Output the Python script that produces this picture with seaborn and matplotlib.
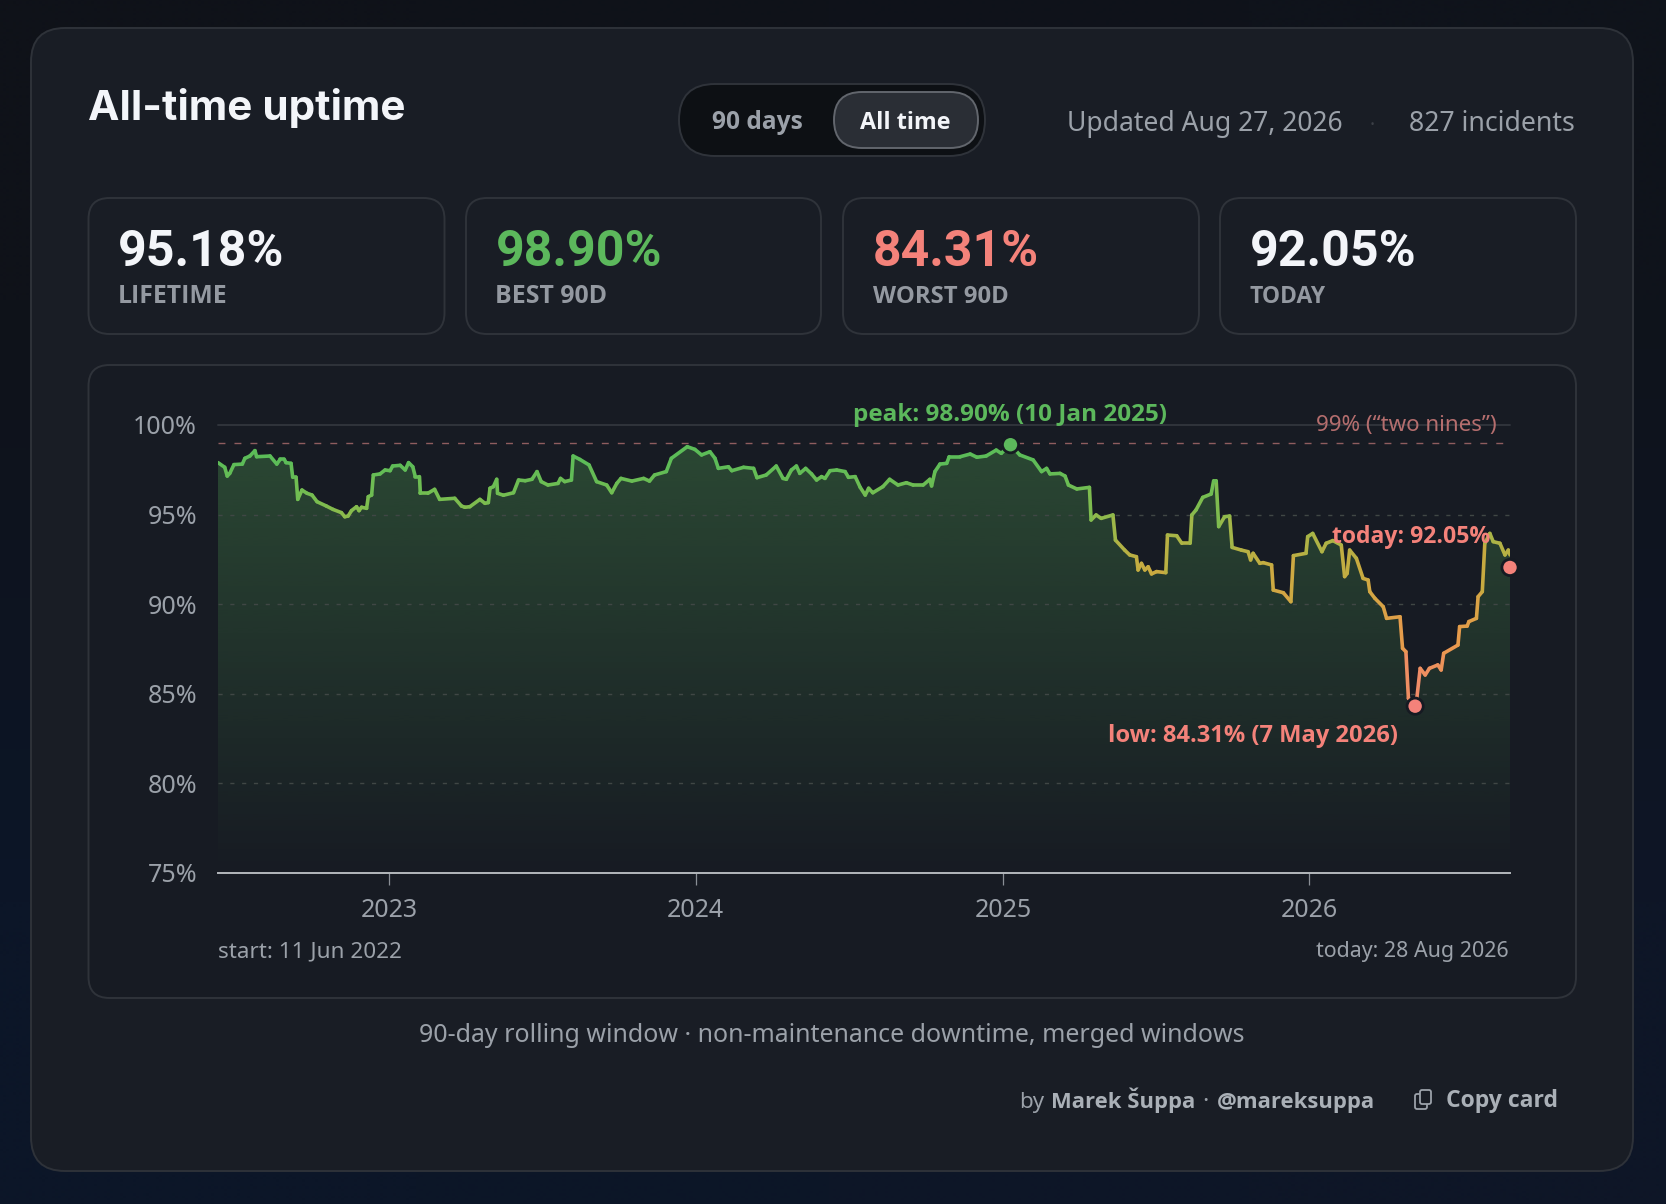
import datetime as dt

import matplotlib.pyplot as plt
import matplotlib.dates as mdates
import numpy as np
import pandas as pd
import seaborn as sns
from matplotlib.colors import LinearSegmentedColormap, to_rgb
from matplotlib.patches import FancyBboxPatch

# days since start of the series and the 90-day rolling uptime
days = [0, 8, 11, 14, 19, 29, 32, 38, 44, 46, 62, 70, 74, 79, 81, 87, 89, 93, 95, 100,
        106, 112, 118, 129, 137, 147, 151, 155, 159, 165, 168, 171, 177, 179, 183, 185,
        193, 199, 205, 208, 217, 223, 227, 232, 235, 240, 241, 250, 258, 264, 282, 290,
        294, 300, 312, 318, 322, 324, 328, 332, 333, 340, 352, 358, 366, 374, 380, 385,
        393, 405, 408, 413, 421, 423, 431, 442, 451, 463, 469, 475, 480, 493, 507, 514,
        520, 534, 540, 559, 568, 576, 586, 592, 596, 608, 612, 626, 638, 642, 653, 665,
        673, 677, 683, 689, 693, 700, 707, 713, 719, 723, 729, 737, 747, 751, 759, 765,
        771, 775, 780, 792, 800, 810, 820, 828, 840, 848, 850, 854, 860, 868, 871, 884,
        896, 904, 915, 927, 933, 944, 955, 971, 981, 987, 991, 1003, 1009, 1013, 1023,
        1038, 1040, 1046, 1052, 1066, 1069, 1080, 1086, 1094, 1096, 1100, 1104, 1108,
        1112, 1118, 1129, 1131, 1142, 1148, 1158, 1160, 1165, 1173, 1183, 1186, 1189,
        1192, 1199, 1205, 1208, 1219, 1227, 1230, 1233, 1241, 1245, 1255, 1257, 1269,
        1278, 1281, 1296, 1298, 1304, 1315, 1320, 1328, 1338, 1342, 1345, 1348, 1356,
        1364, 1370, 1372, 1378, 1388, 1392, 1408, 1411, 1415, 1418, 1426, 1428, 1432,
        1438, 1443, 1453, 1457, 1460, 1477, 1479, 1488, 1490, 1499, 1501, 1506, 1509,
        1515, 1519, 1527, 1533, 1537, 1539]
uptime = [97.90, 97.64, 97.15, 97.30, 97.79, 97.82, 98.14, 98.27, 98.57, 98.23, 98.27,
          97.82, 98.08, 98.08, 97.90, 97.86, 97.08, 97.08, 95.85, 96.37, 96.19, 96.09,
          95.72, 95.48, 95.29, 95.11, 94.88, 94.92, 95.22, 95.44, 95.22, 95.41, 95.35,
          96.00, 96.09, 97.21, 97.27, 97.49, 97.45, 97.71, 97.75, 97.49, 97.90, 97.67,
          97.12, 97.12, 96.19, 96.19, 96.41, 95.85, 95.91, 95.48, 95.41, 95.44, 95.85,
          95.63, 95.67, 96.47, 96.56, 96.97, 96.19, 96.08, 96.22, 96.93, 96.89, 96.97,
          97.40, 96.84, 96.65, 96.74, 97.02, 96.84, 96.93, 98.27, 98.08, 97.77, 96.84,
          96.65, 96.22, 96.74, 97.02, 96.87, 97.02, 96.87, 97.21, 97.40, 98.14, 98.79,
          98.64, 98.33, 98.51, 98.14, 97.58, 97.67, 97.45, 97.64, 97.58, 97.06, 97.21,
          97.71, 97.02, 96.97, 97.49, 97.71, 97.30, 97.58, 97.27, 96.93, 97.12, 97.02,
          97.45, 97.49, 97.40, 97.08, 97.12, 96.52, 96.09, 96.47, 96.22, 96.56, 96.97,
          96.65, 96.78, 96.65, 96.65, 96.97, 96.60, 97.40, 97.82, 97.86, 98.23, 98.23,
          98.38, 98.20, 98.27, 98.60, 98.42, 98.90, 98.33, 98.05, 97.40, 97.58, 97.27,
          97.30, 97.15, 96.65, 96.43, 96.52, 94.70, 94.98, 94.79, 94.98, 93.58, 93.02,
          92.75, 92.65, 91.91, 92.28, 91.91, 92.09, 91.69, 91.82, 91.76, 93.86, 93.82,
          93.40, 93.40, 94.98, 95.26, 95.96, 96.15, 96.89, 96.89, 94.33, 94.88, 94.92,
          93.17, 93.02, 92.93, 92.47, 92.84, 92.28, 92.32, 92.19, 90.79, 90.64, 90.14,
          92.71, 92.84, 93.77, 93.95, 92.93, 93.40, 93.55, 93.30, 91.54, 91.72, 93.02,
          92.56, 91.44, 91.35, 90.70, 90.33, 89.86, 89.21, 89.30, 87.54, 87.35, 84.75,
          84.31, 84.75, 86.42, 86.05, 86.42, 86.61, 86.33, 87.26, 87.72, 88.75, 88.78,
          89.03, 89.21, 90.42, 90.70, 93.40, 93.95, 93.49, 93.40, 92.75, 93.02, 92.75]

start_date = dt.date(2022, 6, 11)
today_date = dt.date(2026, 8, 28)
mark_names = ['peak', 'low', 'today']
mark_dates = [dt.date(2025, 1, 10), dt.date(2026, 5, 7), today_date]
mark_values = [98.90, 84.31, 92.05]
mark_colors = ['#5cb85c', '#f4827a', '#f4827a']
y_ticks = [75, 80, 85, 90, 95, 100]
x_ticks = [2023, 2024, 2025, 2026]
stat_values = ['95.18%', '98.90%', '84.31%', '92.05%']
stat_labels = ['LIFETIME', 'BEST 90D', 'WORST 90D', 'TODAY']

W, H = 1666, 1204
CARD = '#191d25'
PANEL = '#171b23'
EDGE = '#2f333a'
MUTED = '#9ba1a9'
WHITE = '#f3f5f9'
GREEN = '#5cb85c'
RED = '#f4827a'
BODY = 'Noto Sans'
BOLD = 'Open Sans'
DISPLAY = 'Inter'
NUMBERS = 'Roboto'

sns.set_theme(style='dark', rc={'lines.scale_dashes': False})
plt.rcParams['font.family'] = [BODY, 'DejaVu Sans']

fig = plt.figure(figsize=(W / 100, H / 100), dpi=100)

# background axes works in picture pixels
bg = fig.add_axes([0, 0, 1, 1], zorder=0)
bg.set_xlim(0, W)
bg.set_ylim(H, 0)
bg.axis('off')
corners = np.array([[to_rgb('#0f1219'), to_rgb('#0f131b')],
                    [to_rgb('#0c1628'), to_rgb('#0e1627')]])
bg.imshow(corners, extent=(0, W, H, 0), aspect='auto', interpolation='bilinear')


def box(x0, y0, x1, y1, r, face, edge=EDGE, lw=1.4):
    bg.add_patch(FancyBboxPatch((x0 + r, y0 + r), x1 - x0 - 2 * r, y1 - y0 - 2 * r,
                                boxstyle=f'round,pad={r},rounding_size={r}',
                                fc=face, ec=edge, lw=lw))


box(31, 28, 1633, 1171, 34, CARD, '#2e3239')
box(88.5, 198, 444.5, 334, 21, CARD)
box(466, 198, 821, 334, 21, CARD)
box(843, 198, 1199, 334, 21, CARD)
box(1220, 198, 1576, 334, 21, CARD)
box(88.5, 365, 1576, 998, 21, PANEL)
box(679, 84, 985, 156, 36, '#0d1014')
box(834, 92, 978, 148, 28, '#2a2e35', '#62666d')
# copy icon
box(1415, 1094, 1427, 1109, 2, CARD, MUTED, 1.3)
box(1420, 1090, 1431, 1104, 2, CARD, MUTED, 1.3)

# chart axes, placed so 75-100 and the date range land on the original pixels
left, right, top, bottom = 218, 1510, 425, 873
ax = fig.add_axes([left / W, 1 - bottom / H, (right - left) / W, (bottom - top) / H], zorder=1)
ax.patch.set_alpha(0)

dates = pd.to_datetime(start_date) + pd.to_timedelta(days, unit='D')
x0 = mdates.date2num(start_date)
x1 = mdates.date2num(today_date)

# area below the curve fades out downwards
alpha = np.linspace(0.3, 0, 256)
fade = np.zeros((256, 1, 4))
fade[:, 0, :3] = to_rgb(GREEN)
fade[:, 0, 3] = alpha
area = ax.fill_between(dates, uptime, 75, color='none', lw=0)
im = ax.imshow(fade, extent=(x0, x1, 75, 100), origin='upper', aspect='auto', zorder=0)
im.set_clip_path(area.get_paths()[0], ax.transData)

# one two-point line per step so the colour can follow the value
rows = []
for i in range(len(days) - 1):
    level = (uptime[i] + uptime[i + 1]) / 2
    rows.append({'date': dates[i], 'value': uptime[i], 'seg': i, 'level': level})
    rows.append({'date': dates[i + 1], 'value': uptime[i + 1], 'seg': i, 'level': level})
segments = pd.DataFrame(rows)

line_cmap = LinearSegmentedColormap.from_list('uptime', [
    (0.0, '#f4827a'), (0.28, '#e99a4c'), (0.57, '#c9ab40'),
    (0.72, '#a3b648'), (0.85, '#78bd50'), (1.0, '#5cbc58')])
sns.lineplot(data=segments, x='date', y='value', units='seg', hue='level', estimator=None,
             palette=line_cmap, hue_norm=(84, 98), legend=False, sort=False, lw=2.6,
             solid_capstyle='round', zorder=3, ax=ax)

sns.scatterplot(x=pd.to_datetime(mark_dates), y=mark_values, hue=mark_names, palette=mark_colors,
                s=136, edgecolor='#161a22', linewidth=2, legend=False, clip_on=False,
                zorder=6, ax=ax)

ax.set_xlim(x0, x1)
ax.set_ylim(75, 100)
ax.set_xlabel('')
ax.set_ylabel('')
ax.set_yticks(y_ticks)
ax.set_yticklabels([f'{v}%' for v in y_ticks])
ax.set_xticks([mdates.date2num(dt.date(y, 1, 1)) for y in x_ticks])
ax.set_xticklabels([str(y) for y in x_ticks])
ax.tick_params(axis='y', length=0, pad=15, labelsize=18, labelcolor=MUTED)
ax.tick_params(axis='x', length=8.6, width=0.9, color='#8a8f96', pad=9.5, labelsize=18,
               labelcolor=MUTED, bottom=True)

ax.yaxis.grid(True, color='#404745', lw=1, linestyle=(0, (3, 5.5)))
ax.xaxis.grid(False)
for gl, v in zip(ax.get_ygridlines(), y_ticks):
    if v in (75, 100):
        gl.set_visible(False)
ax.axhline(100, color='#30343b', lw=1.4, clip_on=False, zorder=1)
ax.axhline(99, color='#8f5d5f', lw=1, linestyle=(0, (5, 6.5)), zorder=1)

for name in ['top', 'left', 'right']:
    ax.spines[name].set_visible(False)
ax.spines['bottom'].set_color('#b4b8bc')
ax.spines['bottom'].set_linewidth(1.4)
renderer = fig.canvas.get_renderer()


def label(x, y, s, width=None, size=16, ha='left', color=MUTED, weight='normal', family=BODY):
    # x, y are picture pixels, y is the baseline; width scales the font to the measured text
    t = ax.text(x, y, s, transform=bg.transData, ha=ha, va='baseline', color=color,
                fontsize=size, fontweight=weight, family=[family, 'DejaVu Sans'], zorder=8)
    if width:
        t.set_fontsize(size * width / t.get_window_extent(renderer).width)
    return t


label(88, 120, 'All-time uptime', 318, 30, color=WHITE, weight='bold', family=DISPLAY)
label(712, 129, '90 days', 91, 18, weight='bold', family=BOLD)
label(860, 129, 'All time', 91, 18, color=WHITE, weight='bold', family=BOLD)
label(1067, 131, 'Updated Aug 27, 2026', 276, 19)
label(1372, 131, '·', size=14, ha='center', color='#3c4047')
label(1575, 131, '827 incidents', 166, 19, ha='right')

stat_x = [118, 495.5, 873, 1249.5]
stat_colors = [WHITE, GREEN, RED, WHITE]
label_w = [110, 112, 136, 76]
for i in range(4):
    label(stat_x[i], 266, stat_values[i], size=36, color=stat_colors[i], weight='bold',
          family=NUMBERS)
    label(stat_x[i], 303, stat_labels[i], label_w[i], 16, color='#9499a1', weight='bold',
          family=BOLD)

label(853, 421, 'peak: 98.90% (10 Jan 2025)', 315, 17, color=GREEN, weight='bold', family=BOLD)
label(1316, 431, '99% (“two nines”)', 181, 16, color='#b56e6e')
label(1332, 543, 'today: 92.05%', 158, 17, color=RED, weight='bold', family=BOLD)
label(1108, 742, 'low: 84.31% (7 May 2026)', 290, 17, color=RED, weight='bold', family=BOLD)
label(218, 957, 'start: 11 Jun 2022', 183, 16)
label(1509, 957, 'today: 28 Aug 2026', 193, 16, ha='right')
label(419, 1042, '90-day rolling window · non-maintenance downtime, merged windows', 826, 19)

label(1019, 1108, 'by', 25, 17)
label(1051, 1108, 'Marek Šuppa', 144, 17, color='#aab0b7', weight='bold', family=BOLD)
label(1205, 1108, '·', size=17, ha='center')
label(1217, 1108, '@mareksuppa', 158, 17, color='#aab0b7', weight='bold', family=BOLD)
label(1446, 1107, 'Copy card', 112, 17, color='#aab0b7', weight='bold', family=BOLD)

fig.savefig('out.png', dpi=100)
